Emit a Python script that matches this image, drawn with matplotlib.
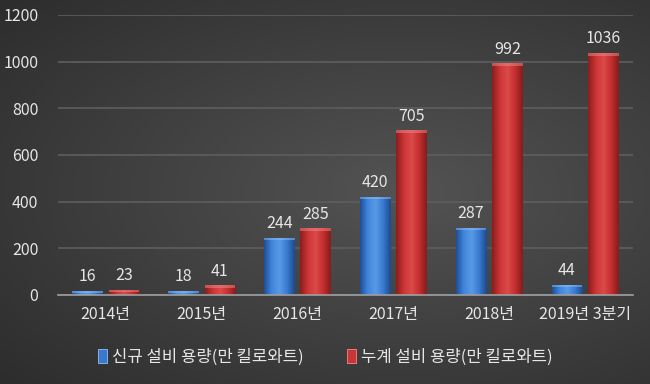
import matplotlib.pyplot as plt
import numpy as np
from matplotlib.patches import Patch
from matplotlib.colors import LinearSegmentedColormap

plt.rcParams['font.family'] = ['Noto Sans CJK KR', 'DejaVu Sans']

categories = ['2014년', '2015년', '2016년', '2017년', '2018년', '2019년 3분기']
new_capacity = [16, 18, 244, 420, 287, 44]
total_capacity = [23, 41, 285, 705, 992, 1036]
labels = ['신규 설비 용량(만 킬로와트)', '누계 설비 용량(만 킬로와트)']

txt = '#e6e6e6'
fs = 11.5

fig = plt.figure(figsize=(6.5, 3.84), dpi=100)

# background gradient
bg = fig.add_axes([0, 0, 1, 1])
yy, xx = np.mgrid[0:1:200j, 0:1:340j]
r = np.sqrt(((xx - 0.62) / 0.9) ** 2 + ((yy - 0.5) / 0.8) ** 2)
bg.imshow(np.clip(r, 0, 1), cmap=LinearSegmentedColormap.from_list('bg', ['#535353', '#2a2a2a']),
          aspect='auto', extent=[0, 1, 0, 1], vmin=0, vmax=1)
bg.axis('off')

ax = fig.add_axes([0.089, 0.232, 0.885, 0.729])
ax.patch.set_alpha(0)

x = np.arange(len(categories))
w = 0.32
off = 0.19
b1 = ax.bar(x - off, new_capacity, w, color='#3a78cc', zorder=3)
b2 = ax.bar(x + off, total_capacity, w, color='#c93535', zorder=3)

blue_cm = LinearSegmentedColormap.from_list('b', ['#1f4f95', '#3f86dd', '#5a9ae6', '#3a7ad0', '#1d4a8e'])
red_cm = LinearSegmentedColormap.from_list('r', ['#8a1e1e', '#cc3535', '#dc4a4a', '#c43030', '#841c1c'])
grad = np.linspace(0, 1, 64).reshape(1, -1)
for bars, cm, top in [(b1, blue_cm, '#8fc0f5'), (b2, red_cm, '#f08a8a')]:
    for b in bars:
        x0, y0 = b.get_x(), b.get_y()
        bw, bh = b.get_width(), b.get_height()
        im = ax.imshow(grad, cmap=cm, aspect='auto', extent=[x0, x0 + bw, y0, y0 + bh],
                       zorder=4, interpolation='bicubic')
        im.set_clip_path(b)
        cap = min(10, bh * 0.5)
        ax.bar(x0 + bw / 2, cap, bw, bottom=bh - cap, color=top, alpha=0.5, zorder=5)

for i in range(len(categories)):
    ax.text(x[i] - off, new_capacity[i] + 25, str(new_capacity[i]), ha='center', va='bottom',
            color=txt, fontsize=fs)
    ax.text(x[i] + off, total_capacity[i] + 25, str(total_capacity[i]), ha='center', va='bottom',
            color=txt, fontsize=fs)

ax.set_xlim(-0.5, len(categories) - 0.5)
ax.set_ylim(0, 1200)
ax.set_yticks(range(0, 1201, 200))
ax.set_xticks(x)
ax.set_xticklabels(categories)
ax.tick_params(colors=txt, labelsize=fs, length=0)
ax.tick_params(axis='x', pad=8)
ax.tick_params(axis='y', pad=14)
ax.grid(axis='y', color='#5e5e5e', linewidth=1.2, zorder=0)
for s in ['top', 'right', 'left']:
    ax.spines[s].set_visible(False)
ax.spines['bottom'].set_color('#a0a0a0')
ax.spines['bottom'].set_linewidth(1.2)
ax.spines['bottom'].set_zorder(6)

handles = [Patch(facecolor='#3a78cc', edgecolor='#8fc0f5', linewidth=0.6),
           Patch(facecolor='#c93535', edgecolor='#f08a8a', linewidth=0.6)]
fig.legend(handles, labels, loc='center', bbox_to_anchor=(0.5, 0.07), ncol=2, frameon=False,
           labelcolor=txt, fontsize=fs + 0.5, handlelength=0.55, handleheight=0.9, handletextpad=0.3,
           columnspacing=2.6)

fig.savefig('out.png', dpi=100)
